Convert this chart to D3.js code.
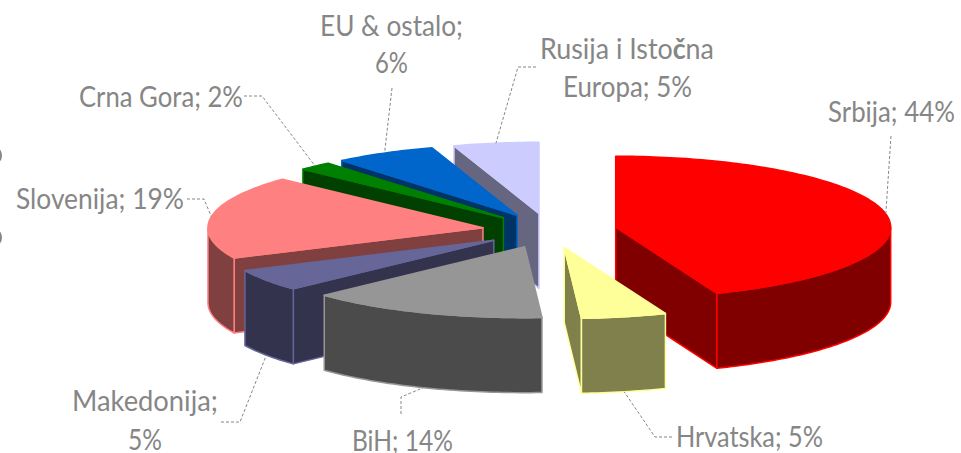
<!DOCTYPE html>
<html>
<head>
<meta charset="utf-8">
<script src="https://d3js.org/d3.v7.min.js"></script>
<style>
  html, body { margin: 0; padding: 0; background: #fff; }
  svg { display: block; }
  text { font-family: Lato, sans-serif; font-size: 28px; fill: #868686; }
</style>
</head>
<body>
<div id="chart"></div>
<script>
var categories = ['Srbija', 'Hrvatska', 'BiH', 'Makedonija', 'Slovenija', 'Crna Gora', 'EU & ostalo', 'Rusija i Istočna Europa'];
var values = [44, 5, 14, 5, 19, 2, 6, 5];
var colors = ['#ff0000', '#ffff99', '#969696', '#666699', '#ff8080', '#008000', '#0066cc', '#ccccff'];

// label lines: [text, left, right, baseline], one row per drawn line
var labelLines = [
  ['Srbija; 44%', 828, 955, 122],
  ['Hrvatska; 5%', 676, 823, 447],
  ['BiH; 14%', 352, 453, 451],
  ['Makedonija;', 72, 218, 411],
  ['5%', 128, 162, 450],
  ['Slovenija; 19%', 16, 184, 209],
  ['Crna Gora; 2%', 79, 243, 107],
  ['EU & ostalo;', 320, 463, 36],
  ['6%', 375, 408, 73],
  ['Rusija i Isto|č|na', 540, 714, 59],
  ['Europa; 5%', 563, 692, 97]
];

// leader line start points, the last point comes from the slice
var leaders = [
  [[891, 136]],
  [[672, 437], [655, 437]],
  [[401, 414], [401, 397]],
  [[221, 422], [240, 422]],
  [[187, 199], [204, 199]],
  [[244, 96], [262, 96]],
  [[392, 88]],
  [[536, 67], [518, 67]]
];

var width = 961, height = 453;
var cx = 549.5, cy = 230.5, rx = 275, ry = 71;
var explode = 0.245;
var depth = 75;

var svg = d3.select('#chart').append('svg')
  .attr('width', width)
  .attr('height', height);

// plan coordinates of the tilted pie go to the screen through these two
var xScale = d3.scaleLinear().domain([-1, 1]).range([cx - rx, cx + rx]);
var yScale = d3.scaleLinear().domain([-1, 1]).range([cy - ry, cy + ry]);

var pie = d3.pie().sort(null).value(function (d) { return d; });
var slices = pie(values).map(function (d, i) {
  var mid = (d.startAngle + d.endAngle) / 2;
  return {
    i: i,
    a: d.startAngle,
    b: d.endAngle,
    mid: mid,
    ox: Math.sin(mid) * explode,
    oy: -Math.cos(mid) * explode
  };
});

function pt(s, angle, r, drop) {
  return [
    xScale(s.ox + r * Math.sin(angle)),
    yScale(s.oy - r * Math.cos(angle)) + (drop || 0)
  ];
}

function arcPoints(s, a, b, drop) {
  var n = Math.max(2, Math.ceil((b - a) / 0.02));
  return d3.range(n + 1).map(function (k) {
    return pt(s, a + (b - a) * k / n, 1, drop);
  });
}

var line = d3.line();

function closed(points) { return line(points) + 'Z'; }

function dark(c) {
  var r = d3.rgb(c);
  return d3.rgb(r.r / 2, r.g / 2, r.b / 2).formatHex();
}

// back to front, by where the slice apex lands on the screen
var order = slices.slice().sort(function (p, q) { return p.oy - q.oy; });

var groups = svg.append('g').selectAll('g')
  .data(order)
  .enter()
  .append('g')
  .attr('stroke', function (d) { return colors[d.i]; })
  .attr('stroke-width', 1.5)
  .attr('stroke-linejoin', 'round');

groups.each(function (s) {
  var g = d3.select(this);
  var side = dark(colors[s.i]);

  // flat cut faces, only those turned to the viewer
  if (Math.sin(s.a) < -1e-6) {
    g.append('path').attr('fill', side).attr('d', closed([
      pt(s, 0, 0), pt(s, s.a, 1), pt(s, s.a, 1, depth), pt(s, 0, 0, depth)
    ]));
  }
  if (Math.sin(s.b) > 1e-6) {
    g.append('path').attr('fill', side).attr('d', closed([
      pt(s, 0, 0), pt(s, s.b, 1), pt(s, s.b, 1, depth), pt(s, 0, 0, depth)
    ]));
  }

  // outer wall, front half of the rim only
  var from = Math.max(s.a, Math.PI / 2);
  var to = Math.min(s.b, Math.PI * 1.5);
  if (to > from) {
    g.append('path').attr('fill', side).attr('d', closed(
      arcPoints(s, from, to, 0).concat(arcPoints(s, from, to, depth).reverse())
    ));
  }

  // top face
  g.append('path').attr('fill', colors[s.i]).attr('d', closed(
    [pt(s, 0, 0)].concat(arcPoints(s, s.a, s.b, 0))
  ));
});

// leaders end on the rim at the middle of the slice, lower rim if it faces us
svg.append('g').selectAll('path')
  .data(slices)
  .enter()
  .append('path')
  .attr('fill', 'none')
  .attr('stroke', '#868686')
  .attr('stroke-width', 1)
  .attr('stroke-dasharray', '3,2')
  .attr('d', function (s) {
    var front = Math.cos(s.mid) < 0;
    return line(leaders[s.i].concat([pt(s, s.mid, 1, front ? depth : 0)]));
  });

// tall narrow lettering: squeeze each line to the width it has in the original
svg.append('g').selectAll('text')
  .data(labelLines)
  .enter()
  .append('text')
  .each(function (d) {
    var el = d3.select(this);
    d[0].split('|').forEach(function (t, k) {
      el.append('tspan').attr('font-weight', k == 1 ? 'bold' : null).text(t);
    });
    var k = (d[2] - d[1]) / this.getComputedTextLength();
    el.attr('transform', 'translate(' + d[1] + ',' + d[3] + ') scale(' + k + ',1)');
  });

// two round scraps sit cut off on the left edge of the original
svg.append('g').selectAll('ellipse')
  .data([155.5, 237.5])
  .enter()
  .append('ellipse')
  .attr('cx', -5)
  .attr('cy', function (d) { return d; })
  .attr('rx', 6)
  .attr('ry', 7.5)
  .attr('fill', 'none')
  .attr('stroke', '#868686')
  .attr('stroke-width', 2);
</script>
</body>
</html>
